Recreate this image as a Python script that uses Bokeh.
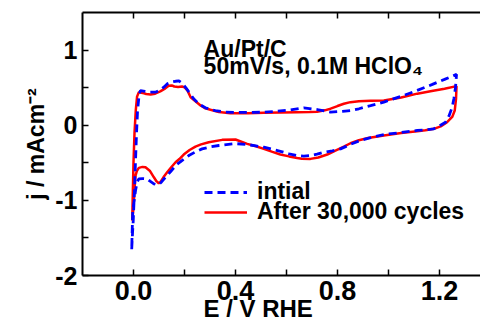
from bokeh.plotting import figure
from bokeh.models import (Range1d, LinearAxis, FixedTicker, Legend, LegendItem,
                          Label, NumeralTickFormatter)
from bokeh.embed import file_html
from bokeh.resources import INLINE

# ---------------- data ----------------
# After 30,000 cycles (red, solid): anodic sweep then cathodic sweep
e_after_anodic = [-0.005, -0.003, 0.000, 0.004, 0.009, 0.014, 0.021, 0.035, 0.050, 0.067,
                  0.085, 0.105, 0.125, 0.138, 0.150, 0.160, 0.175, 0.190, 0.200, 0.212,
                  0.224, 0.243, 0.263, 0.282, 0.302, 0.335, 0.380, 0.450, 0.511, 0.580,
                  0.642, 0.690, 0.720, 0.750, 0.773, 0.800, 0.825, 0.851, 0.884, 0.930,
                  0.982, 1.050, 1.113, 1.170, 1.220, 1.267]
j_after_anodic = [-1.27, -0.95, -0.50, -0.10, 0.20, 0.38, 0.44, 0.43, 0.415, 0.41,
                  0.42, 0.45, 0.49, 0.525, 0.53, 0.515, 0.51, 0.515, 0.505, 0.46,
                  0.373, 0.32, 0.263, 0.225, 0.205, 0.175, 0.16, 0.158, 0.165, 0.17,
                  0.173, 0.175, 0.178, 0.198, 0.22, 0.255, 0.285, 0.307, 0.32, 0.325,
                  0.33, 0.37, 0.42, 0.455, 0.485, 0.52]
e_after_cathodic = [1.267, 1.265, 1.260, 1.250, 1.230, 1.205, 1.178, 1.145, 1.113, 1.050,
                    0.982, 0.920, 0.884, 0.851, 0.825, 0.790, 0.760, 0.725, 0.694, 0.660,
                    0.642, 0.610, 0.576, 0.545, 0.511, 0.480, 0.446, 0.400, 0.348, 0.295,
                    0.265, 0.243, 0.220, 0.197, 0.180, 0.165, 0.148, 0.132, 0.118, 0.106,
                    0.099, 0.090, 0.080, 0.065, 0.047, 0.035, 0.021, 0.013, 0.008, 0.004,
                    0.000, -0.005]
j_after_cathodic = [0.52, 0.35, 0.196, 0.11, 0.04, -0.015, -0.048, -0.068, -0.08, -0.105,
                    -0.137, -0.17, -0.20, -0.24, -0.285, -0.34, -0.39, -0.43, -0.448, -0.445,
                    -0.435, -0.415, -0.39, -0.355, -0.315, -0.28, -0.248, -0.19, -0.195, -0.227,
                    -0.255, -0.284, -0.33, -0.39, -0.45, -0.493, -0.56, -0.627, -0.69, -0.755,
                    -0.773, -0.745, -0.693, -0.61, -0.56, -0.555, -0.568, -0.61, -0.67, -0.85,
                    -1.10, -1.27]

# Initial (blue, dashed)
e_init_anodic = [-0.007, -0.004, -0.001, 0.004, 0.008, 0.012, 0.016, 0.022, 0.027, 0.045,
                 0.065, 0.086, 0.105, 0.120, 0.132, 0.150, 0.165, 0.178, 0.190, 0.205,
                 0.220, 0.236, 0.258, 0.282, 0.320, 0.361, 0.400, 0.450, 0.511, 0.560,
                 0.616, 0.668, 0.720, 0.773, 0.820, 0.851, 0.884, 0.930, 0.982, 1.050,
                 1.113, 1.170, 1.220, 1.267]
j_init_anodic = [-1.65, -1.45, -1.27, -0.85, -0.47, -0.10, 0.20, 0.40, 0.46, 0.45,
                 0.44, 0.44, 0.47, 0.51, 0.55, 0.575, 0.585, 0.59, 0.56, 0.50,
                 0.43, 0.352, 0.28, 0.232, 0.195, 0.173, 0.17, 0.17, 0.173, 0.185,
                 0.205, 0.232, 0.209, 0.173, 0.185, 0.196, 0.219, 0.26, 0.307, 0.385,
                 0.463, 0.54, 0.61, 0.676]
e_init_cathodic = [1.267, 1.263, 1.257, 1.250, 1.237, 1.224, 1.200, 1.178, 1.145, 1.113,
                   1.050, 0.982, 0.930, 0.884, 0.851, 0.812, 0.780, 0.746, 0.720, 0.694,
                   0.668, 0.642, 0.610, 0.576, 0.545, 0.511, 0.480, 0.446, 0.400, 0.335,
                   0.300, 0.269, 0.243, 0.217, 0.190, 0.165, 0.145, 0.125, 0.110, 0.099,
                   0.090, 0.080, 0.065, 0.054, 0.035, 0.021, 0.014, 0.008, 0.003, -0.003,
                   -0.007]
j_init_cathodic = [0.676, 0.507, 0.36, 0.24, 0.12, 0.04, -0.01, -0.048, -0.062, -0.07,
                   -0.097, -0.124, -0.165, -0.21, -0.255, -0.315, -0.34, -0.36, -0.385, -0.404,
                   -0.41, -0.404, -0.38, -0.347, -0.32, -0.293, -0.275, -0.257, -0.245, -0.27,
                   -0.29, -0.315, -0.355, -0.404, -0.47, -0.537, -0.62, -0.693, -0.755, -0.79,
                   -0.79, -0.78, -0.745, -0.715, -0.71, -0.715, -0.76, -0.87, -1.00, -1.137,
                   -1.65]

x_major_ticks = [0.0, 0.4, 0.8, 1.2]
x_minor_ticks = [0.2, 0.6, 1.0]
y_major_ticks = [-2, -1, 0, 1]
y_minor_ticks = [-1.5, -0.5, 0.5]

series_labels = ["intial", "After 30,000 cycles"]
title_lines = ["Au/Pt/C", "50mV/s, 0.1M HClO\u2084"]
x_title = "E / V RHE"
y_title = "j / mAcm\u207b\u00b2"

FONT = "Liberation Sans"

# ---------------- figure ----------------
p = figure(width=480, height=325, x_range=Range1d(-0.2, 1.361), y_range=Range1d(-2, 1.5),
           output_backend="svg", toolbar_location=None,
           min_border_left=82, min_border_right=0, min_border_top=12, min_border_bottom=50)
p.grid.visible = False
p.outline_line_color = None
p.background_fill_color = "white"
p.border_fill_color = "white"

def style_axis(ax, ticks, minor, fmt, size):
    ax.ticker = FixedTicker(ticks=ticks, minor_ticks=minor)
    ax.formatter = NumeralTickFormatter(format=fmt)
    ax.axis_line_width = 2
    ax.axis_line_color = "black"
    ax.major_tick_in = 6
    ax.major_tick_out = 0
    ax.minor_tick_in = 6
    ax.minor_tick_out = 0
    ax.major_tick_line_width = 1.5
    ax.minor_tick_line_width = 1.5
    ax.major_tick_line_color = "black"
    ax.minor_tick_line_color = "black"
    ax.major_label_text_font = FONT
    ax.major_label_text_font_style = "bold"
    ax.major_label_text_font_size = size
    ax.major_label_text_color = "black"

def label_axis(text, size, standoff):
    ax = LinearAxis(ticker=FixedTicker(ticks=[]))
    ax.axis_line_color = None
    ax.major_tick_line_color = None
    ax.minor_tick_line_color = None
    ax.major_tick_in = 0
    ax.major_tick_out = 0
    ax.minor_tick_in = 0
    ax.minor_tick_out = 0
    ax.major_label_standoff = 0
    ax.major_label_text_font_size = "0px"
    ax.axis_label = text
    ax.axis_label_text_font = FONT
    ax.axis_label_text_font_style = "bold"
    ax.axis_label_text_font_size = size
    ax.axis_label_text_line_height = 1.0
    ax.axis_label_text_color = "black"
    ax.axis_label_standoff = standoff
    return ax

xax = p.xaxis[0]
style_axis(xax, x_major_ticks, x_minor_ticks, "0.0", "27px")
xax.major_label_standoff = 5

yax = p.yaxis[0]
style_axis(yax, y_major_ticks, y_minor_ticks, "0", "25px")
yax.major_label_standoff = 5

top = LinearAxis()
style_axis(top, x_major_ticks, x_minor_ticks, "0.0", "0px")
top.major_label_standoff = 0
top.major_label_text_alpha = 0
p.add_layout(top, "above")

# axis titles on label-only axes; trailing no-break spaces move the x title
# left of the frame centre, where the reference has it
p.add_layout(label_axis(x_title + "\u00a0" * 7, "24px", -8), "below")
p.add_layout(label_axis(y_title, "23px", 4), "left")

# ---------------- curves ----------------
e_after = e_after_anodic + e_after_cathodic
j_after = j_after_anodic + j_after_cathodic
e_init = e_init_anodic + e_init_cathodic
j_init = j_init_anodic + j_init_cathodic

r_after = p.line(e_after, j_after, line_color="#ff0000", line_width=2.5)
r_init = p.line(e_init, j_init, line_color="#0000ff", line_width=2.8, line_dash="8 5")

for lbl, rend, loc in [(series_labels[0], r_init, (122, 70)),
                       (series_labels[1], r_after, (122, 50))]:
    lg = Legend(items=[LegendItem(label=lbl, renderers=[rend])],
                location=loc, border_line_color=None, background_fill_alpha=0,
                padding=0, margin=0, spacing=0, glyph_width=43, glyph_height=20,
                label_height=20, label_standoff=10,
                label_text_font=FONT, label_text_font_style="bold",
                label_text_font_size="23px", label_text_color="black")
    p.add_layout(lg)

for txt, yv in zip(title_lines, [1.019, 0.787]):
    p.add_layout(Label(x=0.275, y=yv, text=txt, text_font=FONT, text_font_style="bold",
                       text_font_size="23px", text_color="black", text_baseline="alphabetic"))

open("out.html", "w").write(file_html(p, INLINE))
